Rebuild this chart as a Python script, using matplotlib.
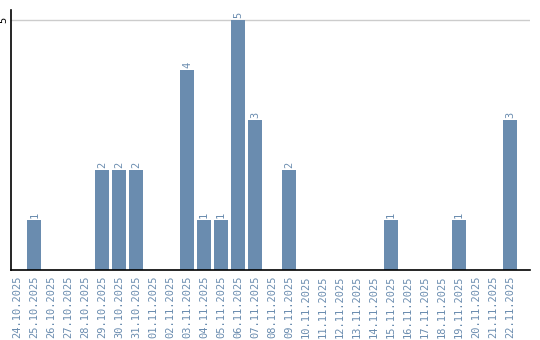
import matplotlib
matplotlib.use("Agg")
import matplotlib.pyplot as plt

dates = ["24.10.2025", "25.10.2025", "26.10.2025", "27.10.2025", "28.10.2025",
         "29.10.2025", "30.10.2025", "31.10.2025", "01.11.2025", "02.11.2025",
         "03.11.2025", "04.11.2025", "05.11.2025", "06.11.2025", "07.11.2025",
         "08.11.2025", "09.11.2025", "10.11.2025", "11.11.2025", "12.11.2025",
         "13.11.2025", "14.11.2025", "15.11.2025", "16.11.2025", "17.11.2025",
         "18.11.2025", "19.11.2025", "20.11.2025", "21.11.2025", "22.11.2025"]
counts = [0, 1, 0, 0, 0, 2, 2, 2, 0, 0, 4, 1, 1, 5, 3, 0, 2, 0, 0, 0,
          0, 0, 1, 0, 0, 0, 1, 0, 0, 3]

bar_color = "#6a8caf"
fig = plt.figure(figsize=(5.4, 3.4), dpi=100)
ax = fig.add_axes([0.021, 0.206, 0.961, 0.764])

x = list(range(len(dates)))
ax.bar(x, counts, width=0.82, color=bar_color, zorder=2)
for xi, c in zip(x, counts):
    if c > 0:
        ax.text(xi, c + 0.05, str(c), rotation=90, ha="center", va="bottom",
                color=bar_color, fontsize=7.5, family="DejaVu Sans Mono")

ax.set_xlim(-0.35, 30.2)
ax.set_ylim(0, 5.2)
ax.set_yticks([5])
ax.set_yticklabels(["5"], rotation=90, va="center", fontsize=7.5,
                   family="DejaVu Sans Mono")
ax.axhline(5, color="#cccccc", linewidth=1, zorder=1)
ax.set_xticks(x)
ax.set_xticklabels(dates, rotation=90, fontsize=7.5, color=bar_color,
                   family="DejaVu Sans Mono")
ax.tick_params(length=0, pad=4)
ax.tick_params(axis="y", pad=2)
for side in ["top", "right"]:
    ax.spines[side].set_visible(False)
ax.spines["left"].set_linewidth(1.2)
ax.spines["bottom"].set_linewidth(1.2)

fig.savefig("out.png", dpi=100)
